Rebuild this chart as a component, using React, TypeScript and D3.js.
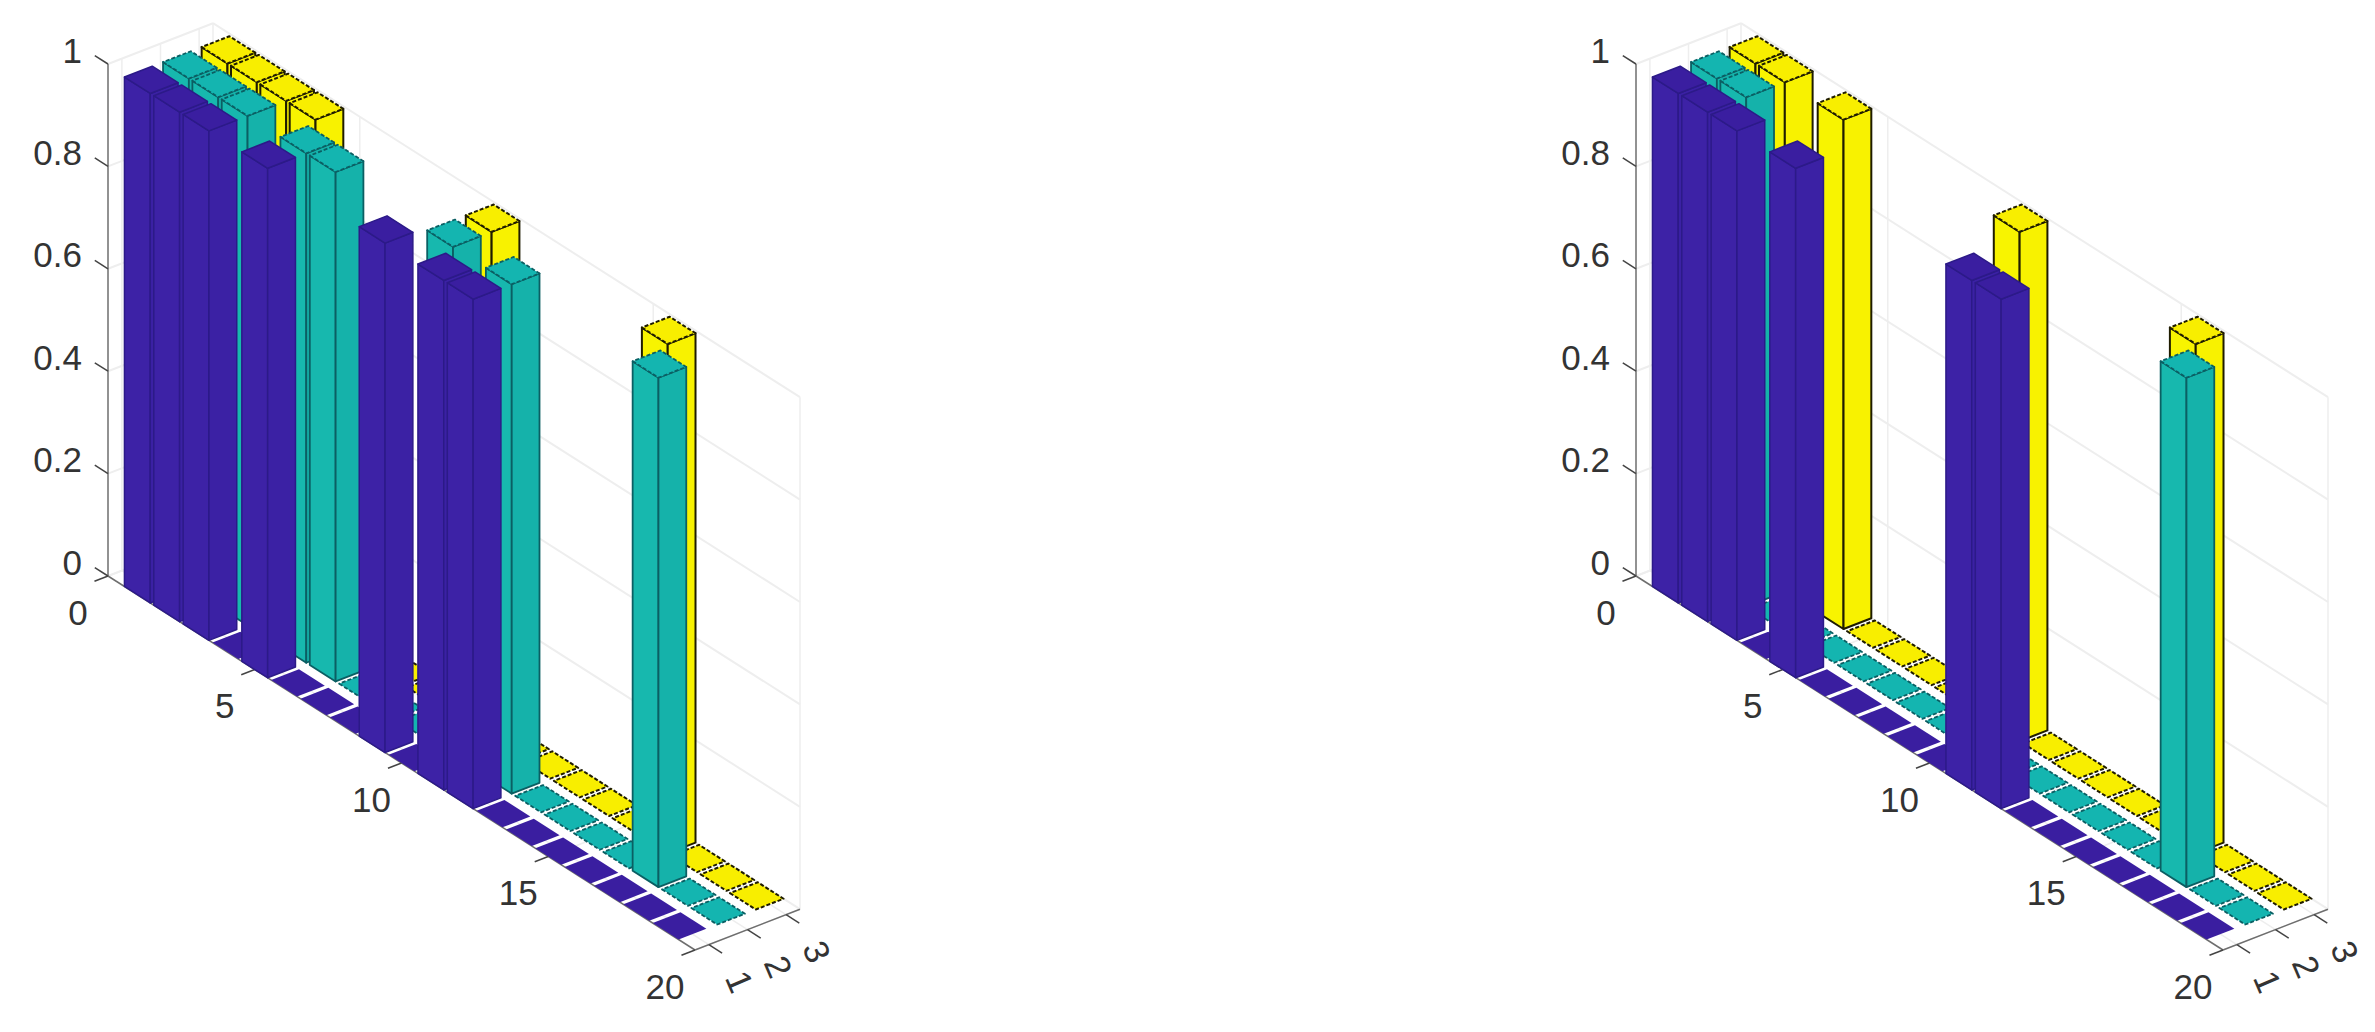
import React, { useEffect, useRef } from 'react';
import * as d3 from 'd3';

const rows = d3.range(1, 20);
const groups = [1, 2, 3];
const xTicks = [0, 5, 10, 15, 20];
const yTicks = [1, 2, 3];
const zTicks = [0, 0.2, 0.4, 0.6, 0.8, 1];

const leftBlue = [1, 1, 1, 0, 1, 0, 0, 0, 1, 0, 1, 1, 0, 0, 0, 0, 0, 0, 0];
const leftTeal = [1, 1, 1, 0, 1, 1, 0, 0, 0, 1, 0, 1, 0, 0, 0, 0, 1, 0, 0];
const leftYellow = [1, 1, 1, 1, 0, 0, 0, 0, 0, 1, 0, 0, 0, 0, 0, 1, 0, 0, 0];

const rightBlue = [1, 1, 1, 0, 1, 0, 0, 0, 0, 0, 1, 1, 0, 0, 0, 0, 0, 0, 0];
const rightTeal = [1, 1, 0, 0, 0, 0, 0, 0, 0, 0, 0, 0, 0, 0, 0, 0, 1, 0, 0];
const rightYellow = [1, 1, 0, 1, 0, 0, 0, 0, 0, 1, 0, 0, 0, 0, 0, 1, 0, 0, 0];

const WIDTH = 2375;
const HEIGHT = 1032;
const barX = 0.88;
const barY = 0.72;
const yMin = 0.64;
const yMax = 3.36;
const topScale = 0.995;

const palette = [
  { left: '#3d22a6', right: '#3b21a4', top: '#3a1ea0', edge: '#2c1a88', width: 1.5, dash: null },
  { left: '#17b8ae', right: '#15b2aa', top: '#14b5b0', edge: '#0b5f63', width: 1.8, dash: '4 2' },
  { left: '#f8f400', right: '#f8f200', top: '#f8ee00', edge: '#1f1c00', width: 2, dash: '4 2' },
];

// oblique view of the box: each data axis moves the pixel in both directions
const xToH = d3.scaleLinear().domain([0, 20]).range([0, 587]);
const xToV = d3.scaleLinear().domain([0, 20]).range([0, 374]);
const yToH = d3.scaleLinear().domain([yMin, yMax]).range([0, 105]);
const yToV = d3.scaleLinear().domain([yMin, yMax]).range([0, -40.8]);
const zToV = d3.scaleLinear().domain([0, 1]).range([0, -512]);

const project = (x: number, y: number, z: number): [number, number] => [
  xToH(x) + yToH(y),
  xToV(x) + yToV(y) + zToV(z),
];

const line = d3.line<[number, number]>();

function drawPanel(svg: any, originX: number, originY: number, series: number[][]) {
  const g = svg.append('g').attr('transform', `translate(${originX},${originY})`);

  const seg = (a: [number, number], b: [number, number], color: string, w: number) =>
    g.append('path').attr('d', line([a, b])).attr('fill', 'none').attr('stroke', color).attr('stroke-width', w);

  // Grid on the walls and floor
  const gridColor = '#eeeeee';
  zTicks.forEach((z) => {
    seg(project(0, yMin, z), project(0, yMax, z), gridColor, 2);
    seg(project(0, yMax, z), project(20, yMax, z), gridColor, 2);
  });
  yTicks.forEach((y) => {
    seg(project(0, y, 0), project(0, y, 1), gridColor, 1.5);
    seg(project(0, y, 0), project(20, y, 0), gridColor, 1.5);
  });
  xTicks.forEach((x) => {
    seg(project(x, yMax, 0), project(x, yMax, 1), gridColor, 1.5);
    seg(project(x, yMin, 0), project(x, yMax, 0), gridColor, 1.5);
  });

  // Axis lines
  const axisColor = '#6e6e6e';
  seg(project(0, yMin, 0), project(0, yMin, 1), axisColor, 1.5);
  seg(project(0, yMin, 0), project(20, yMin, 0), axisColor, 1.5);
  seg(project(20, yMin, 0), project(20, yMax, 0), axisColor, 1.5);

  const tickColor = '#444';
  const textColor = '#333333';
  const fontSize = 35;
  const label = (px: number, py: number, s: string, rotate = 0) =>
    g.append('text')
      .attr('transform', `translate(${px},${py}) rotate(${rotate})`)
      .attr('text-anchor', 'middle')
      .attr('dominant-baseline', 'central')
      .attr('font-family', '"Liberation Sans", Arial, sans-serif')
      .attr('font-size', fontSize)
      .attr('fill', textColor)
      .text(s);

  zTicks.forEach((z) => {
    seg(project(0, yMin, z), project(-0.45, yMin, z), tickColor, 1.5);
    const [px, py] = project(0, yMin, z);
    g.append('text')
      .attr('x', px - 26)
      .attr('y', py - 14)
      .attr('text-anchor', 'end')
      .attr('dominant-baseline', 'central')
      .attr('font-family', '"Liberation Sans", Arial, sans-serif')
      .attr('font-size', fontSize)
      .attr('fill', textColor)
      .text(z);
  });
  xTicks.forEach((x) => {
    seg(project(x, yMin, 0), project(x, yMin - 0.35, 0), tickColor, 1.5);
    const [px, py] = project(x, yMin, 0);
    label(px - 30, py + 36, String(x));
  });
  yTicks.forEach((y) => {
    seg(project(20, y, 0), project(20.45, y, 0), tickColor, 1.5);
    const [px, py] = project(20, y, 0);
    label(px + 31, py + 37, String(y), 67);
  });

  // Bars: back group first, and within a group from the far row to the near row
  [...groups].reverse().forEach((grp) => {
    const colors = palette[grp - 1];
    rows.forEach((row, ri) => {
      const value = series[grp - 1][ri];
      const x0 = row - barX / 2;
      const x1 = row + barX / 2;
      const y0 = grp - barY / 2;
      const y1 = grp + barY / 2;
      const z = value * topScale;
      const face = (pts: [number, number][], fill: string, dash: string | null, edge: boolean) => {
        g.append('path')
          .attr('d', line(pts) + 'Z')
          .attr('fill', fill)
          .attr('stroke', edge ? colors.edge : 'none')
          .attr('stroke-width', colors.width)
          .attr('stroke-linejoin', 'round')
          .attr('stroke-dasharray', dash);
      };
      if (value > 0) {
        face([project(x0, y0, 0), project(x1, y0, 0), project(x1, y0, z), project(x0, y0, z)], colors.left, null, true);
        face([project(x1, y0, 0), project(x1, y1, 0), project(x1, y1, z), project(x1, y0, z)], colors.right, null, true);
      }
      // flat blue cells show no outline, the other groups keep a dashed one
      face(
        [project(x0, y0, z), project(x1, y0, z), project(x1, y1, z), project(x0, y1, z)],
        colors.top,
        colors.dash,
        value > 0 || grp > 1,
      );
    });
  });
}

const App: React.FC = () => {
  const svgRef = useRef<SVGSVGElement>(null);

  useEffect(() => {
    if (!svgRef.current) return;
    const svg = d3.select(svgRef.current);
    svg.selectAll('*').remove();
    drawPanel(svg, 108, 576, [leftBlue, leftTeal, leftYellow]);
    drawPanel(svg, 1636, 576, [rightBlue, rightTeal, rightYellow]);
  }, []);

  return (
    <svg
      ref={svgRef}
      width={WIDTH}
      height={HEIGHT}
      style={{ position: 'absolute', left: 0, top: 0, background: '#fff' }}
    />
  );
};

export default App;
